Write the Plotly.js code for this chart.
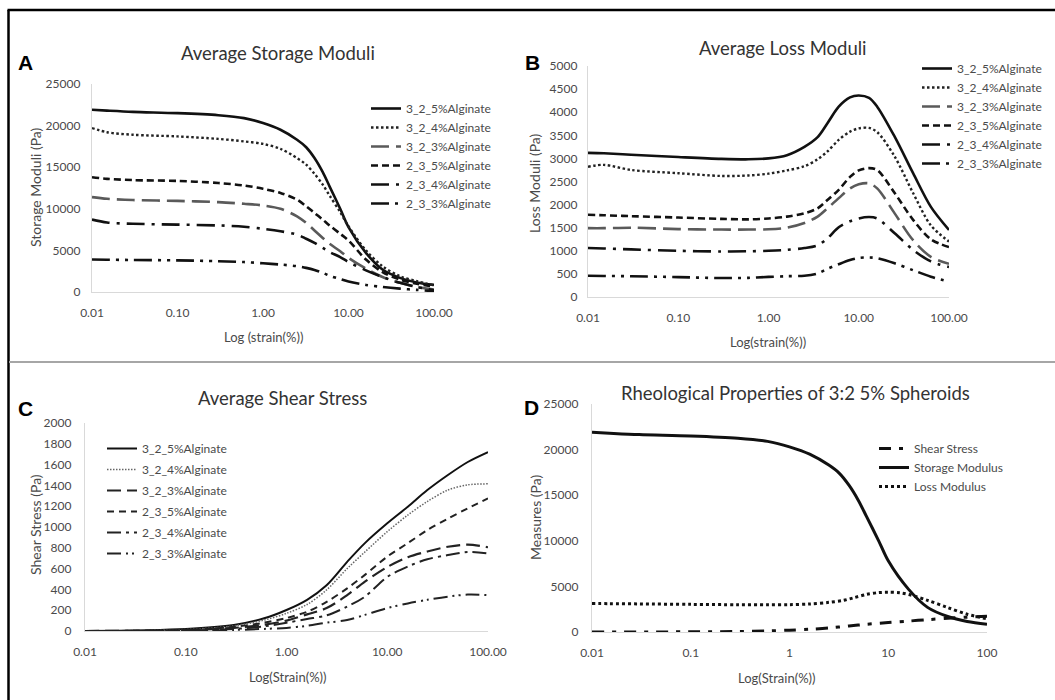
<!DOCTYPE html>
<html>
<head>
<meta charset="utf-8">
<script src="https://cdn.plot.ly/plotly-3.0.1.min.js"></script>
<style>
html,body{margin:0;padding:0;background:#fff;}
#chart{width:1055px;height:700px;}
</style>
</head>
<body>
<div id="chart"></div>
<script>
// ---------- DATA ----------
const seriesNames = ["3_2_5%Alginate","3_2_4%Alginate","3_2_3%Alginate","2_3_5%Alginate","2_3_4%Alginate","2_3_3%Alginate"];

// Panel A: storage moduli (Pa)
const strainA = [0.01,0.015,0.03,0.1,0.3,0.6,1,1.6,2.5,3.2,4,5,6,8,10,16,25,40,63,100];
const storage325 = [21900,21800,21650,21500,21250,20900,20300,19500,18300,17400,16100,14400,12700,10000,7800,4700,2700,1700,1150,850];
const storage324 = [19700,19200,18900,18700,18400,18100,17800,17200,16100,15300,14200,12900,11600,9600,7900,5000,3100,1900,1300,800];
const storage323 = [11400,11200,11050,10950,10800,10600,10400,10000,9100,8300,7400,6500,5800,4900,4100,2800,1800,1100,600,300];
const storage235 = [13800,13600,13450,13350,13100,12800,12400,11900,11100,10300,9500,8700,8000,7000,6200,3900,2400,1500,1000,650];
const storage234 = [8700,8350,8200,8100,8000,7850,7600,7300,6900,6400,5900,5300,4800,4200,3600,2600,1800,1100,600,200];
const storage233 = [3900,3880,3850,3800,3700,3600,3450,3300,3100,2900,2650,2300,1950,1550,1250,850,600,400,250,100];

// Panel B: loss moduli (Pa)
const strainB = [0.01,0.015,0.03,0.1,0.3,0.6,1,1.6,2.5,3.5,4.5,6,8,10,13,16,25,40,63,100];
const loss325 = [3120,3110,3080,3030,2990,2980,3000,3070,3250,3460,3760,4120,4320,4360,4310,4120,3470,2680,1950,1450];
const loss324 = [2820,2860,2750,2680,2620,2630,2670,2740,2830,2980,3150,3400,3580,3650,3660,3570,3040,2250,1550,1200];
const loss323 = [1490,1490,1500,1470,1460,1460,1465,1500,1600,1740,1920,2140,2350,2440,2460,2350,1810,1230,870,720];
const loss235 = [1780,1770,1750,1720,1690,1680,1700,1740,1810,1920,2100,2320,2600,2740,2790,2750,2250,1670,1250,1080];
const loss234 = [1060,1050,1030,1000,985,990,1000,1020,1060,1120,1270,1510,1640,1700,1730,1700,1380,1020,770,650];
const loss233 = [460,455,450,430,410,415,435,450,460,510,610,710,800,845,855,840,730,580,440,330];

// Panel C: shear stress (Pa)
const strainC = [0.01,0.1,0.3,0.6,1,1.6,2.5,4,6,10,16,25,40,63,100];
const shear325 = [0,20,58,122,202,300,440,665,845,1035,1195,1355,1500,1625,1720];
const shear324 = [0,15,50,105,170,255,395,600,760,955,1115,1245,1355,1405,1415];
const shear323 = [0,8,30,60,100,160,220,345,475,615,710,765,810,830,805];
const shear235 = [0,10,40,80,125,185,280,410,540,715,845,970,1080,1180,1275];
const shear234 = [0,5,20,45,80,115,150,235,330,520,620,690,730,760,745];
const shear233 = [0,2,10,20,30,50,80,105,155,220,265,300,330,350,345];

// Panel D: 3:2 5% spheroids
const dNames = ["Shear Stress","Storage Modulus","Loss Modulus"];

// Tick labels
const xTickVals = [0.01,0.1,1,10,100];
const xTickTextABC = ["0.01","0.10","1.00","10.00","100.00"];
const xTickTextD = ["0.01","0.1","1","10","100"];

// ---------- STYLES ----------
const W = 1055, H = 700;
const px = v => v / W;
const py = v => 1 - v / H;
const FONT = "Lato, 'Open Sans', sans-serif";
const TICKC = "#4a4a4a", TITLEC = "#333";

const styleAB = [
  {dash:"solid", color:"#111", width:2.6},
  {dash:"2.5px,2.5px", color:"#222", width:2.4},
  {dash:"18px,7px", color:"#5a5a5a", width:2.6},
  {dash:"7px,4px", color:"#111", width:2.6},
  {dash:"18px,7px,3px,7px", color:"#111", width:2.6},
  {dash:"18px,6px,3px,6px,3px,6px", color:"#111", width:2.6}
];
const styleC = [
  {dash:"solid", color:"#111", width:2},
  {dash:"1.5px,1.5px", color:"#666", width:1.5},
  {dash:"14px,6px", color:"#222", width:2.2},
  {dash:"7px,5px", color:"#222", width:2},
  {dash:"14px,5px,3px,5px", color:"#222", width:2},
  {dash:"14px,5px,2px,4px,2px,5px", color:"#222", width:2}
];
const styleD = [
  {dash:"12px,8px,4px,8px", color:"#111", width:3},
  {dash:"solid", color:"#111", width:3},
  {dash:"3px,3px", color:"#111", width:3}
];

function tr(x, y, name, st, ax, leg, grp) {
  return {
    type:"scatter", mode:"lines", x:x, y:y, name:name,
    xaxis:"x"+ax, yaxis:"y"+ax, legend:leg, legendgroup:grp,
    line:{color:st.color, width:st.width, dash:st.dash, shape:"spline", smoothing:0.9},
    hoverinfo:"skip"
  };
}

const dataA = [storage325,storage324,storage323,storage235,storage234,storage233];
const dataB = [loss325,loss324,loss323,loss235,loss234,loss233];
const dataC = [shear325,shear324,shear323,shear235,shear234,shear233];

const traces = [];
dataA.forEach((d,i)=>traces.push(tr(strainA,d,seriesNames[i],styleAB[i],"", "legend","a"+i)));
dataB.forEach((d,i)=>traces.push(tr(strainB,d,seriesNames[i],styleAB[i],"2","legend2","b"+i)));
dataC.forEach((d,i)=>traces.push(tr(strainC,d,seriesNames[i],styleC[i],"3","legend3","c"+i)));
traces.push(tr(strainC,shear325,dNames[0],styleD[0],"4","legend4","d0"));
traces.push(tr(strainA,storage325,dNames[1],styleD[1],"4","legend4","d1"));
traces.push(tr(strainB,loss325,dNames[2],styleD[2],"4","legend4","d2"));

function xax(x0,x1,y,texts){
  return {domain:[px(x0),px(x1)], anchor:y, type:"log", range:[-2,2],
    tickvals:xTickVals, ticktext:texts, showgrid:false, zeroline:false,
    showline:true, linecolor:"#d9d9d9", linewidth:1.2, ticks:"",
    ticklabelstandoff:9, tickfont:{family:FONT, size:12, color:TICKC}, fixedrange:true};
}
function yax(yTop,yBot,x,rng,dt,stand){
  return {domain:[py(yBot),py(yTop)], anchor:x, range:rng, dtick:dt, tick0:0, tickformat:"d",
    showgrid:false, zeroline:false, showline:true, linecolor:"#d9d9d9", linewidth:1.2,
    ticks:"", ticklabelstandoff:stand, tickfont:{family:FONT, size:12, color:TICKC}, fixedrange:true};
}

function ann(text,x,y,size,opts){
  return Object.assign({text:text, xref:"paper", yref:"paper", x:px(x), y:py(y),
    xanchor:"center", yanchor:"middle", showarrow:false,
    font:{family:FONT, size:size, color:TITLEC}}, opts||{});
}
const letterFont = {family:"'Liberation Sans', Arial, sans-serif", size:21, color:"#000", weight:"bold"};
const axTitleFont = {family:FONT, size:14, color:TICKC};
const xTitleFont = {family:FONT, size:13, color:TICKC};

function leg(x,yTop,gap,order){
  return {x:px(x), y:py(yTop), xanchor:"left", yanchor:"top", bgcolor:"rgba(0,0,0,0)",
    font:{family:FONT, size:12, color:TICKC}, itemwidth:30, tracegroupgap:gap, traceorder:order};
}

const layout = {
  width:W, height:H, margin:{l:0,r:0,t:0,b:0}, paper_bgcolor:"#fff", plot_bgcolor:"rgba(0,0,0,0)",
  showlegend:true,
  xaxis: xax(92,434,"y",xTickTextABC),
  yaxis: yax(84,292,"x",[0,25000],5000,8),
  xaxis2: xax(588,949,"y2",xTickTextABC),
  yaxis2: yax(66,297,"x2",[0,5000],500,7),
  xaxis3: xax(85,488,"y3",xTickTextABC),
  yaxis3: yax(423,631,"x3",[0,2000],200,10),
  xaxis4: xax(592,987,"y4",xTickTextD),
  yaxis4: yax(404,632,"x4",[0,25000],5000,10),
  legend: leg(366,94,0,"normal"),
  legend2: leg(917,54,0,"normal"),
  legend3: leg(102,434,2,"grouped"),
  legend4: leg(874,434,0,"normal"),
  annotations:[
    ann("Average Storage Moduli",278,53,18.5),
    ann("Average Loss Moduli",783,48,18.5),
    ann("Average Shear Stress",282,398,18.5),
    ann("Rheological Properties of 3:2 5% Spheroids",795,393,18.5),
    ann("A",25,63,21,{font:letterFont}),
    ann("B",532,63,21,{font:letterFont}),
    ann("C",25,408,21,{font:letterFont}),
    ann("D",531,407,21,{font:letterFont}),
    ann("Storage Moduli (Pa)",35,187,14,{textangle:-90, font:axTitleFont}),
    ann("Loss Moduli (Pa)",534,183,14,{textangle:-90, font:axTitleFont}),
    ann("Shear Stress (Pa)",35,525,14,{textangle:-90, font:axTitleFont}),
    ann("Measures (Pa)",535,518,14,{textangle:-90, font:axTitleFont}),
    ann("Log (strain(%))",263,337,13,{font:xTitleFont}),
    ann("Log(strain(%))",768,342,13,{font:xTitleFont}),
    ann("Log(Strain(%))",288,677,13,{font:xTitleFont}),
    ann("Log(Strain(%))",777,678,13,{font:xTitleFont})
  ],
  shapes:[
    {type:"line", xref:"paper", yref:"paper", x0:px(7.5), x1:1, y0:py(10), y1:py(10), line:{color:"#000", width:2.5}},
    {type:"line", xref:"paper", yref:"paper", x0:px(8.5), x1:px(8.5), y0:0, y1:py(10), line:{color:"#000", width:2.5}},
    {type:"line", xref:"paper", yref:"paper", x0:px(9), x1:1, y0:py(362), y1:py(362), line:{color:"#a6a6a6", width:2}}
  ]
};

Plotly.newPlot("chart", traces, layout, {staticPlot:true, displayModeBar:false});
</script>
</body>
</html>
